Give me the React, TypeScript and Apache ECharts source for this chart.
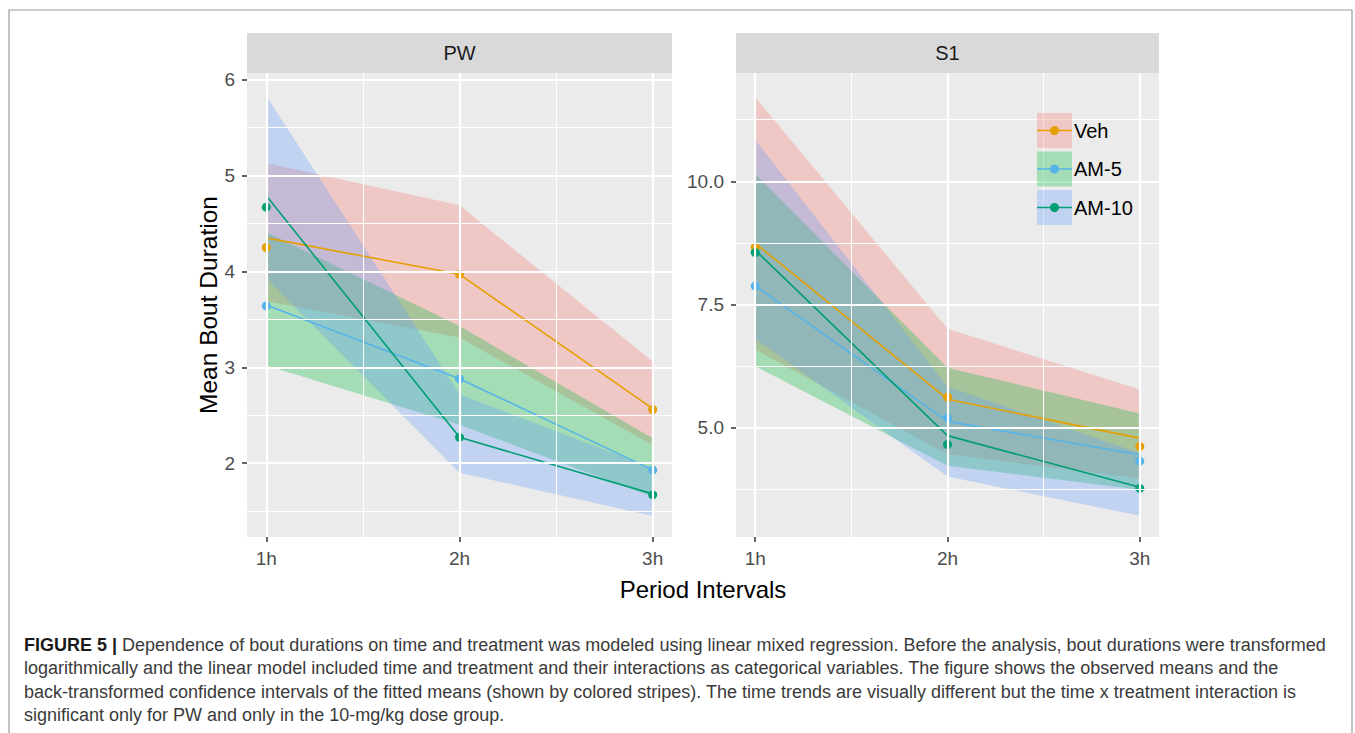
import React, { useEffect, useRef } from "react";
import * as echarts from "echarts";

// ---------- data ----------
const periods = [1, 2, 3];
const periodLabels = ["1h", "2h", "3h"];
const groups = ["Veh", "AM-5", "AM-10"];

// PW panel: fitted means, CI bounds, observed means
const pwVehFit = [4.35, 3.97, 2.57];
const pwVehLo = [3.69, 3.31, 2.19];
const pwVehHi = [5.13, 4.69, 3.06];
const pwVehObs = [4.25, 3.97, 2.56];

const pwAm5Fit = [3.65, 2.88, 1.93];
const pwAm5Lo = [3.02, 2.4, 1.65];
const pwAm5Hi = [4.41, 3.43, 2.26];
const pwAm5Obs = [3.64, 2.88, 1.93];

const pwAm10Fit = [4.79, 2.27, 1.68];
const pwAm10Lo = [3.93, 1.9, 1.45];
const pwAm10Hi = [5.83, 2.72, 1.95];
const pwAm10Obs = [4.67, 2.27, 1.67];

// S1 panel
const s1VehFit = [8.74, 5.57, 4.78];
const s1VehLo = [6.58, 4.45, 3.96];
const s1VehHi = [11.71, 7.0, 5.77];
const s1VehObs = [8.66, 5.61, 4.61];

const s1Am5Fit = [7.87, 5.12, 4.44];
const s1Am5Lo = [6.24, 4.22, 3.73];
const s1Am5Hi = [10.15, 6.21, 5.28];
const s1Am5Obs = [7.87, 5.19, 4.31];

const s1Am10Fit = [8.6, 4.83, 3.78];
const s1Am10Lo = [6.8, 4.0, 3.2];
const s1Am10Hi = [10.84, 5.83, 4.47];
const s1Am10Obs = [8.55, 4.65, 3.76];

// ticks / grid lines
const xMajor = [1, 2, 3];
const xMinor = [1.5, 2.5];
const pwTicks = [2, 3, 4, 5, 6];
const pwMinor = [1.5, 2.5, 3.5, 4.5, 5.5];
const s1Ticks = [5, 7.5, 10];
const s1Minor = [3.75, 6.25, 8.75, 11.25];

const captionLines = [
  "Dependence of bout durations on time and treatment was modeled using linear mixed regression. Before the analysis, bout durations were transformed",
  "logarithmically and the linear model included time and treatment and their interactions as categorical variables. The figure shows the observed means and the",
  "back-transformed confidence intervals of the fitted means (shown by colored stripes). The time trends are visually different but the time x treatment interaction is",
  "significant only for PW and only in the 10-mg/kg dose group.",
];

// ---------- styles ----------
const FONT = "Liberation Sans, Arial, sans-serif";
const lineColors = ["#E69F00", "#56B4E9", "#009E73"];
const ribbonColors = ["rgba(248,118,109,0.3)", "rgba(0,186,56,0.3)", "rgba(97,156,255,0.3)"];

const panels = [
  {
    name: "PW",
    left: 247,
    width: 425,
    yMin: 1.23,
    yMax: 6.07,
    ticks: pwTicks,
    minor: pwMinor,
    fmt: (v: number) => String(v),
    fit: [pwVehFit, pwAm5Fit, pwAm10Fit],
    lo: [pwVehLo, pwAm5Lo, pwAm10Lo],
    hi: [pwVehHi, pwAm5Hi, pwAm10Hi],
    obs: [pwVehObs, pwAm5Obs, pwAm10Obs],
  },
  {
    name: "S1",
    left: 736,
    width: 423,
    yMin: 2.77,
    yMax: 12.2,
    ticks: s1Ticks,
    minor: s1Minor,
    fmt: (v: number) => v.toFixed(1),
    fit: [s1VehFit, s1Am5Fit, s1Am10Fit],
    lo: [s1VehLo, s1Am5Lo, s1Am10Lo],
    hi: [s1VehHi, s1Am5Hi, s1Am10Hi],
    obs: [s1VehObs, s1Am5Obs, s1Am10Obs],
  },
];

const GRID_TOP = 73;
const GRID_H = 464;

function buildOption() {
  const grid: any[] = [];
  const xAxis: any[] = [];
  const yAxis: any[] = [];
  const series: any[] = [];
  const graphic: any[] = [];

  panels.forEach((p, pi) => {
    grid.push({
      left: p.left,
      top: GRID_TOP,
      width: p.width,
      height: GRID_H,
      show: true,
      backgroundColor: "#EBEBEB",
      borderWidth: 0,
      containLabel: false,
    });
    xAxis.push({
      type: "value",
      gridIndex: pi,
      min: 0.9,
      max: 3.1,
      splitLine: { show: false },
      axisLine: { show: false },
      axisTick: {
        show: true,
        customValues: xMajor,
        length: 5,
        lineStyle: { color: "#333333", width: 1.5 },
      },
      axisLabel: {
        customValues: xMajor,
        formatter: (v: number) => periodLabels[periods.indexOf(Math.round(v))] ?? "",
        fontSize: 19,
        fontFamily: FONT,
        color: "#4D4D4D",
        margin: 12,
      },
    });
    yAxis.push({
      type: "value",
      gridIndex: pi,
      min: p.yMin,
      max: p.yMax,
      splitLine: { show: false },
      axisLine: { show: false },
      axisTick: {
        show: true,
        customValues: p.ticks,
        length: 5,
        lineStyle: { color: "#333333", width: 1.5 },
      },
      axisLabel: {
        customValues: p.ticks,
        formatter: (v: number) => p.fmt(v),
        fontSize: 19,
        fontFamily: FONT,
        color: "#4D4D4D",
        margin: 12,
      },
    });

    // grid lines (white) through markLine of an invisible series
    const mlData: any[] = [];
    p.minor.forEach((v) => mlData.push({ yAxis: v, lineStyle: { width: 1 } }));
    xMinor.forEach((v) => mlData.push({ xAxis: v, lineStyle: { width: 1 } }));
    p.ticks.forEach((v) => mlData.push({ yAxis: v, lineStyle: { width: 2.2 } }));
    xMajor.forEach((v) => mlData.push({ xAxis: v, lineStyle: { width: 2.2 } }));
    series.push({
      type: "line",
      xAxisIndex: pi,
      yAxisIndex: pi,
      data: periods.map((x, i) => [x, p.fit[0][i]]),
      symbol: "none",
      lineStyle: { opacity: 0 },
      silent: true,
      z: 1,
      markLine: {
        silent: true,
        symbol: ["none", "none"],
        label: { show: false },
        lineStyle: { color: "#FFFFFF", type: "solid" },
        emphasis: { disabled: true },
        data: mlData,
      },
    });

    // ribbons
    groups.forEach((g, gi) => {
      series.push({
        type: "custom",
        name: g + " CI " + p.name,
        xAxisIndex: pi,
        yAxisIndex: pi,
        z: 2,
        silent: true,
        data: periods.map((x, i) => [x, p.lo[gi][i], p.hi[gi][i]]),
        encode: { x: 0, y: [1, 2] },
        renderItem: (params: any, api: any) => {
          if (params.dataIndexInside !== 0) return null;
          const n = params.dataInsideLength;
          const top: number[][] = [];
          const bot: number[][] = [];
          for (let i = 0; i < n; i++) {
            top.push(api.coord([api.value(0, i), api.value(2, i)]));
            bot.push(api.coord([api.value(0, i), api.value(1, i)]));
          }
          return {
            type: "polygon",
            shape: { points: top.concat(bot.reverse()) },
            style: { fill: ribbonColors[gi], stroke: "none" },
          };
        },
      });
    });

    // fitted lines
    groups.forEach((g, gi) => {
      series.push({
        type: "line",
        name: g,
        xAxisIndex: pi,
        yAxisIndex: pi,
        z: 3,
        symbol: "none",
        data: periods.map((x, i) => [x, p.fit[gi][i]]),
        lineStyle: { color: lineColors[gi], width: 1.6 },
        silent: true,
      });
    });
    // observed points
    groups.forEach((g, gi) => {
      series.push({
        type: "scatter",
        name: g + " obs",
        xAxisIndex: pi,
        yAxisIndex: pi,
        z: 4,
        symbolSize: 9,
        data: periods.map((x, i) => [x, p.obs[gi][i]]),
        itemStyle: { color: lineColors[gi], opacity: 1 },
        silent: true,
      });
    });

    // strip
    graphic.push({
      type: "rect",
      shape: { x: p.left, y: 33, width: p.width, height: 40 },
      style: { fill: "#D9D9D9" },
      z: 5,
    });
    graphic.push({
      type: "text",
      x: p.left + p.width / 2,
      y: 53,
      style: {
        text: p.name,
        fontSize: 20,
        fontFamily: FONT,
        fill: "#1A1A1A",
        align: "center",
        verticalAlign: "middle",
      },
      z: 6,
    });
  });

  // frame
  graphic.push({
    type: "rect",
    shape: { x: 9, y: 10, width: 1343, height: 800 },
    style: { fill: "none", stroke: "#9A9A9A", lineWidth: 1.2 },
    z: 1,
  });

  // axis titles
  graphic.push({
    type: "text",
    x: 208,
    y: 305,
    rotation: Math.PI / 2,
    style: {
      text: "Mean Bout Duration",
      fontSize: 24.5,
      fontFamily: FONT,
      fill: "#000000",
      align: "center",
      verticalAlign: "middle",
    },
    z: 6,
  });
  graphic.push({
    type: "text",
    x: 703,
    y: 589,
    style: {
      text: "Period Intervals",
      fontSize: 24,
      fontFamily: FONT,
      fill: "#000000",
      align: "center",
      verticalAlign: "middle",
    },
    z: 6,
  });

  // legend
  groups.forEach((g, gi) => {
    const top = 113 + gi * 38.5;
    const cy = top + 17.5;
    graphic.push({
      type: "rect",
      shape: { x: 1037, y: top, width: 35, height: 35 },
      style: { fill: ribbonColors[gi] },
      z: 20,
    });
    graphic.push({
      type: "line",
      shape: { x1: 1037, y1: cy, x2: 1072, y2: cy },
      style: { stroke: lineColors[gi], lineWidth: 1.6 },
      z: 21,
    });
    graphic.push({
      type: "circle",
      shape: { cx: 1054.5, cy, r: 4.5 },
      style: { fill: lineColors[gi] },
      z: 22,
    });
    graphic.push({
      type: "text",
      x: 1074,
      y: cy,
      style: {
        text: g,
        fontSize: 20,
        fontFamily: FONT,
        fill: "#000000",
        align: "left",
        verticalAlign: "middle",
      },
      z: 22,
    });
  });

  // caption
  captionLines.forEach((line, li) => {
    graphic.push({
      type: "text",
      x: 24,
      y: 645 + li * 23.3,
      style: {
        text: li === 0 ? "{b|FIGURE 5 |} " + line : line,
        fontSize: 18,
        fontFamily: FONT,
        fill: "#3A3A3A",
        align: "left",
        verticalAlign: "middle",
        rich: {
          b: { fontSize: 18, fontFamily: FONT, fontWeight: "bold", fill: "#1A1A1A" },
        },
      },
      z: 6,
    });
  });

  return {
    animation: false,
    backgroundColor: "#FFFFFF",
    grid,
    xAxis,
    yAxis,
    series,
    graphic,
  };
}

export default function App() {
  const ref = useRef<HTMLDivElement>(null);
  useEffect(() => {
    if (!ref.current) return;
    const chart = echarts.init(ref.current, null, { renderer: "svg" });
    chart.setOption(buildOption() as any);
    return () => chart.dispose();
  }, []);
  return (
    <div
      ref={ref}
      style={{ position: "fixed", left: 0, top: 0, width: 1355, height: 733, background: "#fff" }}
    />
  );
}
